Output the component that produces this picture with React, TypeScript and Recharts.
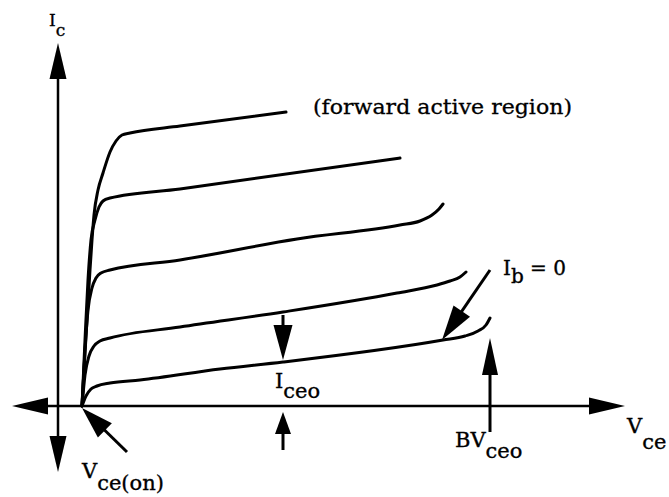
import { LineChart, Line, XAxis, YAxis, ReferenceLine, ReferenceDot } from "recharts";

// units: Vce and Ic in arbitrary divisions
const CURVE_IB5 = [
  [2.4, 0], [2.6, 3.6], [2.9, 8.6], [3.2, 13.6], [3.4, 16.6], [3.6, 19.1], [4.0, 21.6],
  [4.5, 23.3], [5.2, 25.4], [5.8, 26.5], [6.4, 27.1], [7.2, 27.3], [12.2, 28.0], [22.8, 29.4],
];
const CURVE_IB4 = [
  [2.4, 0], [2.7, 6.6], [3.0, 12.6], [3.3, 16.6], [3.7, 18.6], [4.1, 19.9], [4.5, 20.5],
  [5.2, 20.8], [12.2, 21.7], [34.2, 24.8],
];
const CURVE_IB3 = [
  [2.4, 0], [2.7, 5.6], [3.0, 9.6], [3.4, 11.8], [3.8, 12.8], [4.3, 13.3], [5.2, 13.6],
  [12.2, 14.6], [23.9, 16.7], [34.2, 18.1], [36.2, 18.5], [37.4, 19.1], [38.1, 19.7], [38.5, 20.2],
];
const CURVE_IB2 = [
  [2.4, 0], [2.7, 3.1], [3.1, 5.0], [3.6, 6.0], [4.2, 6.5], [5.2, 6.8], [12.2, 7.9],
  [22.5, 9.4], [33.9, 11.3], [37.9, 12.1], [39.2, 12.5], [40.2, 12.9], [40.8, 13.4],
];
const CURVE_IB0 = [
  [2.4, 0], [2.8, 1.0], [3.3, 1.7], [3.9, 2.0], [5.2, 2.3], [8.2, 2.6], [16.2, 3.7],
  [22.5, 4.4], [38.5, 6.6], [40.7, 7.0], [42.0, 7.5], [42.8, 8.1], [43.2, 8.8],
];
const CURVES = [CURVE_IB5, CURVE_IB4, CURVE_IB3, CURVE_IB2, CURVE_IB0];

// arrows: [x1, y1, x2, y2] tail -> tip
const AXIS_V = [0, -6.6, 0, 36.3];
const AXIS_H = [-4.6, 0, 56.7, 0];
const ARROW_ICEO_DOWN = [22.5, 9.1, 22.5, 4.6];
const ARROW_ICEO_UP = [22.5, -4.4, 22.5, -0.6];
const ARROW_BV = [43.2, -2.6, 43.2, 6.8];
const ARROW_IB0 = [43.2, 13.6, 38.4, 6.6];
const ARROW_VON = [6.9, -4.6, 2.4, -0.2];

const FONT = "'DejaVu Serif', 'Liberation Serif', serif";

function arrowShape(len: number, half: number, both: boolean, width = 3) {
  return (p: any) => {
    const { x1, y1, x2, y2 } = p;
    const dx = x2 - x1;
    const dy = y2 - y1;
    const d = Math.hypot(dx, dy) || 1;
    const ux = dx / d;
    const uy = dy / d;
    const head = (tx: number, ty: number, sx: number, sy: number) => {
      const bx = tx - sx * len;
      const by = ty - sy * len;
      return `${tx},${ty} ${bx - sy * half},${by + sx * half} ${bx + sy * half},${by - sx * half}`;
    };
    const sx1 = both ? x1 + ux * (len - 2) : x1;
    const sy1 = both ? y1 + uy * (len - 2) : y1;
    return (
      <g>
        <line x1={sx1} y1={sy1} x2={x2 - ux * (len - 2)} y2={y2 - uy * (len - 2)} stroke="#000" strokeWidth={width} />
        <polygon points={head(x2, y2, ux, uy)} fill="#000" />
        {both && <polygon points={head(x1, y1, -ux, -uy)} fill="#000" />}
      </g>
    );
  };
}

function label(main: string, sub: string, subDy: number, size: number, rest = "", subSize = size) {
  return (p: any) => (
    <text x={p.cx} y={p.cy} fontFamily={FONT} fontSize={size} fill="#000" stroke="#000" strokeWidth={0.35}>
      <tspan>{main}</tspan>
      {sub && <tspan dy={subDy} fontSize={subSize}>{sub}</tspan>}
      {rest && <tspan dy={-subDy}>{rest}</tspan>}
    </text>
  );
}

const seg = (a: number[]) => [{ x: a[0], y: a[1] }, { x: a[2], y: a[3] }];

export default function App() {
  return (
    <div style={{ position: "absolute", left: 0, top: 0, background: "#fff" }}>
      <LineChart width={669} height={497} margin={{ top: 0, right: 0, bottom: 0, left: 0 }}>
        <XAxis type="number" dataKey="x" domain={[-5.8, 61.1]} hide allowDataOverflow />
        <YAxis type="number" dataKey="y" domain={[-9.1, 40.6]} hide allowDataOverflow />
        <ReferenceLine segment={seg(AXIS_V)} shape={arrowShape(36, 8.5, true, 2.5)} />
        <ReferenceLine segment={seg(AXIS_H)} shape={arrowShape(36, 8.5, true, 2.5)} />
        {CURVES.map((c, i) => (
          <Line
            key={i}
            data={c.map(([x, y]) => ({ x, y }))}
            dataKey="y"
            type="monotone"
            stroke="#000"
            strokeWidth={3}
            strokeLinecap="round"
            dot={false}
            activeDot={false}
            isAnimationActive={false}
          />
        ))}
        <ReferenceLine segment={seg(ARROW_ICEO_DOWN)} shape={arrowShape(35, 9.5, false)} />
        <ReferenceLine segment={seg(ARROW_ICEO_UP)} shape={arrowShape(22, 8, false)} />
        <ReferenceLine segment={seg(ARROW_BV)} shape={arrowShape(37, 8, false)} />
        <ReferenceLine segment={seg(ARROW_IB0)} shape={arrowShape(35, 10, false)} />
        <ReferenceLine segment={seg(ARROW_VON)} shape={arrowShape(32, 10, false)} />
        <ReferenceDot x={-0.9} y={38.0} r={0} shape={label("I", "c", 10, 17, "", 17)} />
        <ReferenceDot
          x={25.5}
          y={29.2}
          r={0}
          shape={(p: any) => (
            <text x={p.cx} y={p.cy} fontFamily={FONT} fontSize={21} fill="#000" stroke="#000" strokeWidth={0.3} textLength={259} lengthAdjust="spacingAndGlyphs">
              (forward active region)
            </text>
          )}
        />
        <ReferenceDot x={44.5} y={13.1} r={0} shape={label("I", "b", 8, 20, " = 0")} />
        <ReferenceDot x={21.7} y={1.8} r={0} shape={label("I", "ceo", 10, 21)} />
        <ReferenceDot x={56.9} y={-2.7} r={0} shape={label("V", "ce", 16, 21)} />
        <ReferenceDot x={39.7} y={-4.1} r={0} shape={label("BV", "ceo", 11, 21)} />
        <ReferenceDot x={2.4} y={-7.2} r={0} shape={label("V", "ce(on)", 12, 21)} />
      </LineChart>
    </div>
  );
}
